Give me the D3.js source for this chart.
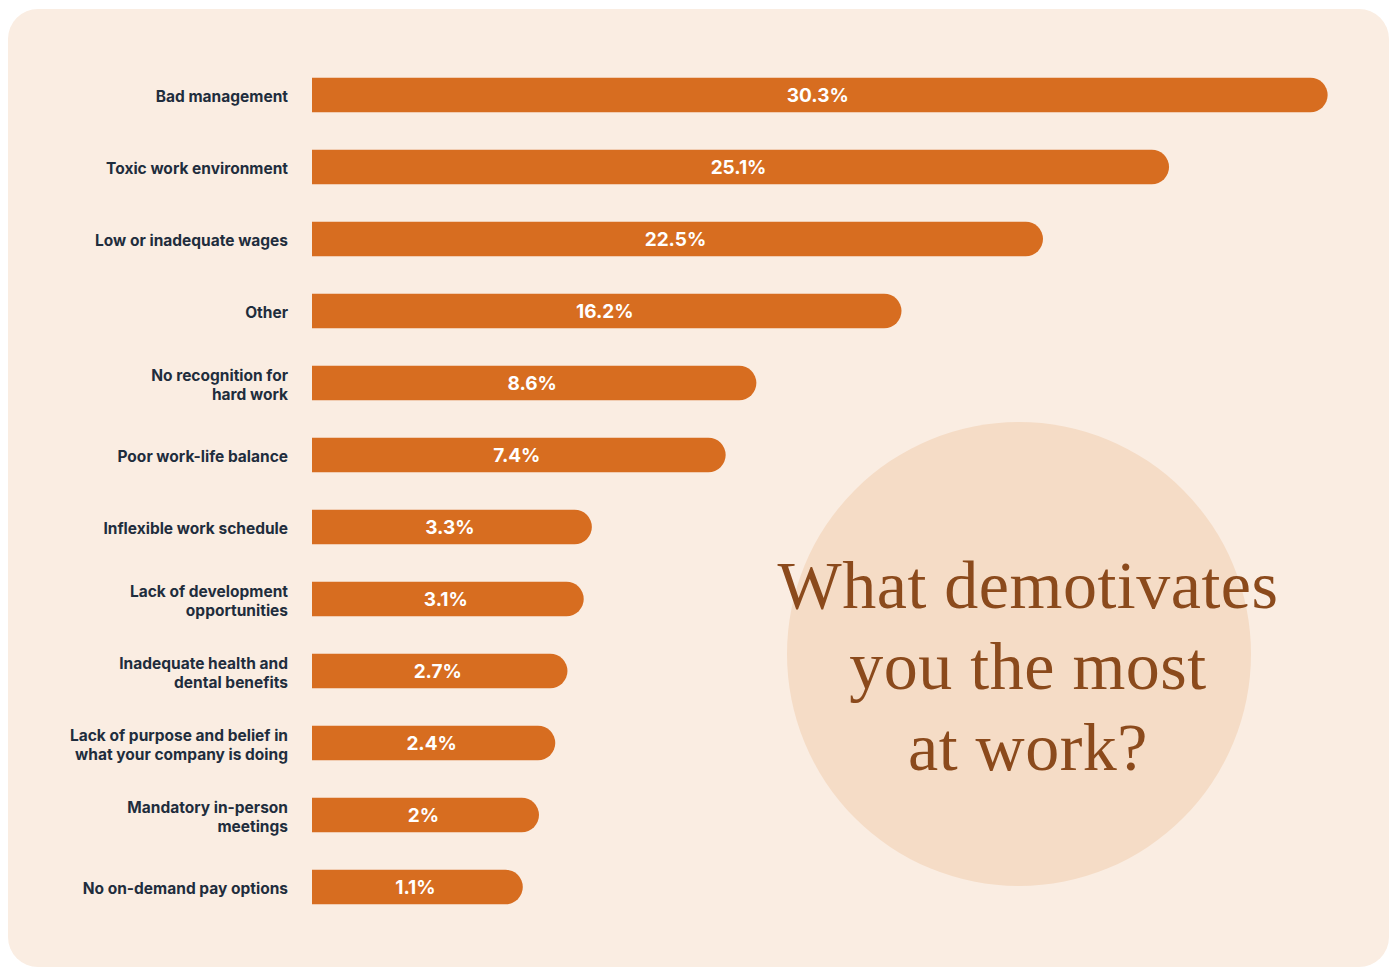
<!DOCTYPE html>
<html>
<head>
<meta charset="utf-8">
<script src="https://cdn.jsdelivr.net/npm/d3@7"></script>
<style>
  body { margin: 0; background: #ffffff; }
  svg { display: block; }
</style>
</head>
<body>
<svg id="chart"></svg>
<script>
// answers, top to bottom
const categories = [
  "Bad management",
  "Toxic work environment",
  "Low or inadequate wages",
  "Other",
  "No recognition for|hard work",
  "Poor work-life balance",
  "Inflexible work schedule",
  "Lack of development|opportunities",
  "Inadequate health and|dental benefits",
  "Lack of purpose and belief in|what your company is doing",
  "Mandatory in-person|meetings",
  "No on-demand pay options"
];
const values = [30.3, 25.1, 22.5, 16.2, 8.6, 7.4, 3.3, 3.1, 2.7, 2.4, 2, 1.1];
const valueLabels = ["30.3%", "25.1%", "22.5%", "16.2%", "8.6%", "7.4%", "3.3%", "3.1%", "2.7%", "2.4%", "2%", "1.1%"];
const titleLines = ["What demotivates", "you the most", "at work?"];

const W = 1394, H = 967;
const barLeft = 312;

const svg = d3.select("#chart")
  .attr("width", W)
  .attr("height", H);

// card background
svg.append("rect")
  .attr("x", 8).attr("y", 9)
  .attr("width", 1381).attr("height", 958)
  .attr("rx", 30)
  .attr("fill", "#faede2");

// big circle behind title
svg.append("circle")
  .attr("cx", 1019).attr("cy", 654).attr("r", 232)
  .attr("fill", "#f5dcc6");

let data = categories.map((c, i) => ({name: c, value: values[i], label: valueLabels[i]}));

// the designer's bar lengths are not strictly proportional, so use a piecewise linear scale
let x = d3.scaleLinear()
  .domain([0, 2, 3.5, 8, 16, 22.5, 25, 31])
  .range([503, 539, 600, 745, 897, 1043, 1166, 1349]);

let y = d3.scaleBand()
  .domain(categories)
  .range([59, 923])
  .paddingInner(0.52)
  .paddingOuter(0.26);

const bh = y.bandwidth();

function barPath(d) {
  let y0 = y(d.name), x1 = x(d.value), r = bh / 2;
  return "M" + barLeft + "," + y0 +
    "H" + (x1 - r) +
    "A" + r + "," + r + " 0 0 1 " + (x1 - r) + "," + (y0 + bh) +
    "H" + barLeft + "Z";
}

svg.selectAll("path.bar")
  .data(data)
  .enter()
  .append("path")
  .attr("class", "bar")
  .attr("d", barPath)
  .attr("fill", "#d76d20");

// values inside bars
svg.selectAll("text.val")
  .data(data)
  .enter()
  .append("text")
  .attr("class", "val")
  .attr("x", d => (barLeft + x(d.value)) / 2 - 2)
  .attr("y", d => y(d.name) + bh / 2)
  .attr("dy", "0.38em")
  .attr("text-anchor", "middle")
  .attr("fill", "#ffffff")
  .style("font-family", "Inter, 'Open Sans', sans-serif")
  .style("font-weight", 700)
  .style("font-size", "19px")
  .text(d => d.label);

// category labels (| splits lines)
let labels = svg.selectAll("text.cat")
  .data(data)
  .enter()
  .append("text")
  .attr("class", "cat")
  .attr("text-anchor", "end")
  .attr("fill", "#1f2d3d")
  .style("font-family", "Inter, 'Open Sans', sans-serif")
  .style("font-weight", 700)
  .style("font-size", "15.5px");

labels.each(function (d) {
  let lines = d.name.split("|");
  let cy = y(d.name) + bh / 2 + 1.5;
  let lh = 19;
  let t = d3.select(this);
  lines.forEach((ln, i) => {
    t.append("tspan")
      .attr("x", 288)
      .attr("y", cy + (i - (lines.length - 1) / 2) * lh)
      .attr("dy", "0.36em")
      .text(ln);
  });
});

// title
svg.append("g")
  .selectAll("text")
  .data(titleLines)
  .enter()
  .append("text")
  .attr("x", 1028)
  .attr("y", (d, i) => 608 + i * 81)
  .attr("text-anchor", "middle")
  .attr("fill", "#8b4a1c")
  .style("font-family", "'Liberation Serif', serif")
  .style("font-size", "68px")
  .style("letter-spacing", "0.5px")
  .text(d => d);
</script>
</body>
</html>
